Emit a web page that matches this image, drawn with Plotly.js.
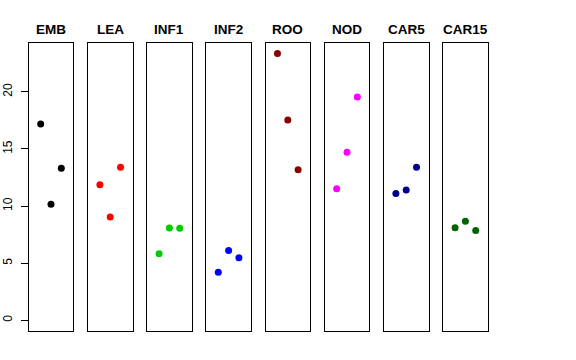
<!DOCTYPE html>
<html>
<head>
<meta charset="utf-8">
<script src="https://cdn.plot.ly/plotly-3.0.1.min.js"></script>
<style>html,body{margin:0;padding:0;background:#fff;}#chart{width:576px;height:360px;}</style>
</head>
<body>
<div id="chart"></div>
<script>
const groups = ['EMB', 'LEA', 'INF1', 'INF2', 'ROO', 'NOD', 'CAR5', 'CAR15'];
const replicate = [1, 2, 3];
const emb = [17.19, 10.16, 13.31];
const lea = [11.87, 9.05, 13.40];
const inf1 = [5.83, 8.08, 8.06];
const inf2 = [4.20, 6.10, 5.48];
const roo = [23.35, 17.54, 13.19];
const nod = [11.52, 14.71, 19.55];
const car5 = [11.09, 11.41, 13.40];
const car15 = [8.11, 8.67, 7.85];
const series = [emb, lea, inf1, inf2, roo, nod, car5, car15];
const colors = ['#000000', '#FF0000', '#00CD00', '#0000FF', '#8B0000', '#FF00FF', '#00008B', '#006400'];
const yTicks = [0, 5, 10, 15, 20];

const W = 576, H = 360;
const panelLeft = 28.7, panelStep = 59.2, panelWidth = 44.6;
const panelTop = 43, panelBottom = 331;
const font = '"Liberation Sans", Arial, Helvetica, sans-serif';

const traces = [];
const layout = {
  width: W, height: H,
  margin: {l: 0, r: 0, t: 0, b: 0},
  paper_bgcolor: '#ffffff', plot_bgcolor: '#ffffff',
  showlegend: false,
  font: {family: font, color: '#000'},
  annotations: []
};
const ydom = [1 - panelBottom / H, 1 - panelTop / H];
groups.forEach((g, i) => {
  const n = i + 1;
  const xs = n === 1 ? '' : String(n);
  const x0 = (panelLeft + i * panelStep) / W;
  const x1 = (panelLeft + i * panelStep + panelWidth) / W;
  traces.push({
    type: 'scatter', mode: 'markers',
    x: replicate, y: series[i],
    xaxis: 'x' + xs, yaxis: 'y' + xs,
    marker: {color: colors[i], size: 7},
    hoverinfo: 'skip'
  });
  layout['xaxis' + xs] = {
    domain: [x0, x1], range: [-0.16, 4.16], anchor: 'y' + xs,
    showgrid: false, zeroline: false, showticklabels: false, ticks: '',
    showline: true, mirror: true, linecolor: '#000', linewidth: 1
  };
  const ya = {
    domain: ydom, range: [-0.94, 24.28], anchor: 'x' + xs,
    showgrid: false, zeroline: false,
    showline: true, mirror: true, linecolor: '#000', linewidth: 1
  };
  if (i === 0) {
    Object.assign(ya, {
      tickmode: 'array', tickvals: yTicks, ticktext: yTicks.map(String),
      ticks: 'outside', ticklen: 7, tickcolor: '#000', tickwidth: 1,
      tickangle: -90, tickfont: {size: 12, color: '#000', family: font},
      ticklabelstandoff: 4
    });
  } else {
    Object.assign(ya, {showticklabels: false, ticks: ''});
  }
  layout['yaxis' + xs] = ya;
  layout.annotations.push({
    text: '<b>' + g + '</b>', xref: 'paper', yref: 'paper',
    x: (x0 + x1) / 2, y: 1 - 29 / H, xanchor: 'center', yanchor: 'middle',
    showarrow: false, font: {size: 13.5, color: '#000', family: font}
  });
});
Plotly.newPlot('chart', traces, layout, {staticPlot: true, displayModeBar: false});
</script>
</body>
</html>
